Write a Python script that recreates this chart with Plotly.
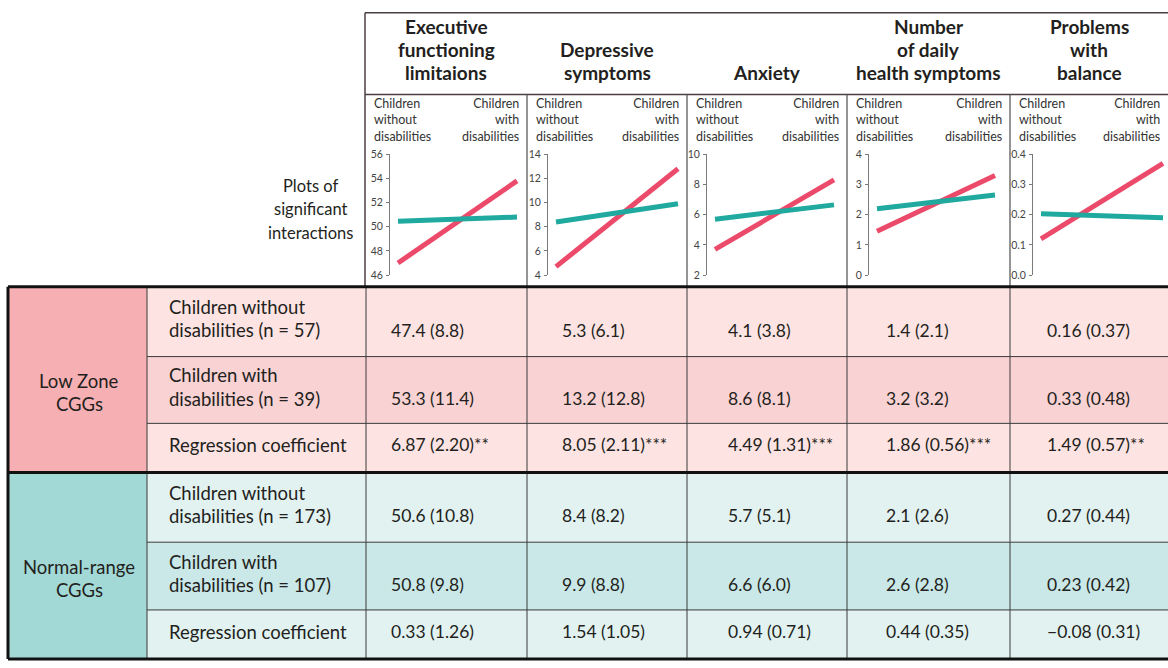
import plotly.graph_objects as go

W, H = 1168, 668

# ---- data -------------------------------------------------------------
outcomes = [
    "Executive\nfunctioning\nlimitaions",
    "Depressive\nsymptoms",
    "Anxiety",
    "Number\nof daily\nhealth symptoms",
    "Problems\nwith\nbalance",
]
y_ranges = [(46, 56), (4, 14), (2, 10), (0, 4), (0, 0.4)]
y_dticks = [2, 2, 2, 1, 0.1]
y_tickformats = ["d", "d", "d", "d", ".1f"]

x_groups = ["Children\nwithout\ndisabilities", "Children\nwith\ndisabilities"]
low_zone_means = [[47.0, 53.8], [4.7, 12.8], [3.7, 8.3], [1.45, 3.3], [0.12, 0.37]]
normal_range_means = [[50.45, 50.8], [8.4, 9.9], [5.7, 6.65], [2.2, 2.65], [0.203, 0.19]]

plots_label = "Plots of\nsignificant\ninteractions"
zone_labels = ["Low Zone\nCGGs", "Normal-range\nCGGs"]
row_labels = [
    "Children without\ndisabilities (n = 57)",
    "Children with\ndisabilities (n = 39)",
    "Regression coefficient",
    "Children without\ndisabilities (n = 173)",
    "Children with\ndisabilities (n = 107)",
    "Regression coefficient",
]
cell_values = [
    ["47.4 (8.8)", "5.3 (6.1)", "4.1 (3.8)", "1.4 (2.1)", "0.16 (0.37)"],
    ["53.3 (11.4)", "13.2 (12.8)", "8.6 (8.1)", "3.2 (3.2)", "0.33 (0.48)"],
    ["6.87 (2.20)**", "8.05 (2.11)***", "4.49 (1.31)***", "1.86 (0.56)***", "1.49 (0.57)**"],
    ["50.6 (10.8)", "8.4 (8.2)", "5.7 (5.1)", "2.1 (2.6)", "0.27 (0.44)"],
    ["50.8 (9.8)", "9.9 (8.8)", "6.6 (6.0)", "2.6 (2.8)", "0.23 (0.42)"],
    ["0.33 (1.26)", "1.54 (1.05)", "0.94 (0.71)", "0.44 (0.35)", "\u22120.08 (0.31)"],
]

# ---- styling ----------------------------------------------------------
FONT = "Lato"
TXT = "#231f20"
RED = "#ec4a6a"
TEAL = "#1fa99f"
GRID = "#3a3a3a"
ZONE_FILL = ["#f6afb3", "#a2d8d5"]
ROW_FILL = ["#fde4e2", "#f9d2d3", "#fde4e2", "#e2f2f1", "#c9e8e7", "#e2f2f1"]

col_edges = [365, 527, 687, 847, 1010, 1168]
axis_x = [390, 548, 707, 869, 1033]
line_end = [517, 678, 834, 995, 1163]
plot_top, plot_bot = 151, 274
row_edges = [286, 357, 425, 475, 546, 615, 665]
table_left, group_right, label_right = 8, 147, 366
value_x = [389, 560, 726, 884, 1045]


def px(x):
    return x / W


def py(y):
    return 1 - y / H


fig = go.Figure()


def text_lines(x, y_first, text, size, spacing, bold=False, anchor="center", color=TXT):
    for i, line in enumerate(text.split("\n")):
        t = f"<b>{line}</b>" if bold else line
        fig.add_annotation(
            x=px(x), y=py(y_first + i * spacing), xref="paper", yref="paper",
            text=t, showarrow=False, xanchor=anchor, yanchor="middle",
            font=dict(family=FONT, size=size, color=color),
        )


def text_block(x, y_top, text, size, anchor, color=TXT):
    fig.add_annotation(
        x=px(x), y=py(y_top), xref="paper", yref="paper",
        text=text.replace("\n", "<br>"), showarrow=False,
        xanchor=anchor, yanchor="top", align=anchor, borderpad=0,
        font=dict(family=FONT, size=size, color=color),
    )


def hline(x0, x1, y, width=1, color=GRID):
    fig.add_shape(type="line", xref="paper", yref="paper",
                  x0=px(x0), x1=px(x1), y0=py(y), y1=py(y),
                  line=dict(color=color, width=width), layer="above")


def vline(x, y0, y1, width=1, color=GRID):
    fig.add_shape(type="line", xref="paper", yref="paper",
                  x0=px(x), x1=px(x), y0=py(y0), y1=py(y1),
                  line=dict(color=color, width=width), layer="above")


def rect(x0, x1, y0, y1, fill):
    fig.add_shape(type="rect", xref="paper", yref="paper",
                  x0=px(x0), x1=px(x1), y0=py(y0), y1=py(y1),
                  line=dict(width=0), fillcolor=fill, layer="below")


# ---- interaction mini-plots -------------------------------------------
layout_axes = {}
for k in range(5):
    sfx = "" if k == 0 else str(k + 1)
    x0 = axis_x[k] + 8
    scale = (line_end[k] - x0)
    lo = -8 / scale
    hi = 1 + 4 / scale
    layout_axes[f"xaxis{sfx}"] = dict(
        domain=[px(axis_x[k]), px(line_end[k] + 4)], range=[lo, hi],
        visible=False, fixedrange=True, anchor=f"y{sfx}",
    )
    ylo, yhi = y_ranges[k]
    layout_axes[f"yaxis{sfx}"] = dict(
        domain=[py(plot_bot), py(plot_top)], range=[ylo, yhi],
        dtick=y_dticks[k], tick0=ylo, tickformat=y_tickformats[k],
        showline=True, linecolor="#7a7a7a", linewidth=1,
        ticks="outside", ticklen=3, tickcolor="#7a7a7a",
        tickfont=dict(family=FONT, size=10.5, color="#444444"),
        showgrid=False, zeroline=False, fixedrange=True,
        anchor=f"x{sfx}", ticklabelstandoff=1,
    )
    fig.add_trace(go.Scatter(
        x=[0, 1], y=low_zone_means[k], mode="lines",
        line=dict(color=RED, width=5), xaxis=f"x{sfx}", yaxis=f"y{sfx}",
        showlegend=False, hoverinfo="skip",
    ))
    fig.add_trace(go.Scatter(
        x=[0, 1], y=normal_range_means[k], mode="lines",
        line=dict(color=TEAL, width=5), xaxis=f"x{sfx}", yaxis=f"y{sfx}",
        showlegend=False, hoverinfo="skip",
    ))
    # group labels above each mini-plot
    text_block(col_edges[k] + 8, 91, x_groups[0], 12.5, "left", color="#333333")
    text_block(col_edges[k + 1] - 7, 91, x_groups[1], 12.5, "right", color="#333333")

# ---- header -------------------------------------------------------------
hline(365, 1168, 7, width=1.5, color="#4d3f40")
vline(365, 7, 286, width=1.5, color="#4d3f40")
hline(365, 1168, 90, width=1.5, color="#4d3f40")
for x in col_edges[1:-1]:
    vline(x, 90, 286, width=1.2, color="#4d4d4d")

for k, title in enumerate(outcomes):
    n = len(title.split("\n"))
    cx = (col_edges[k] + col_edges[k + 1]) / 2
    text_lines(cx, 68 - (n - 1) * 23.5, title, 19, 23.5, bold=True)

text_lines(310, 183, plots_label, 16.5, 24)

# ---- table ----------------------------------------------------------------
for z in range(2):
    rect(table_left, group_right, row_edges[3 * z], row_edges[3 * z + 3], ZONE_FILL[z])
for r in range(6):
    rect(group_right, 1168, row_edges[r], row_edges[r + 1], ROW_FILL[r])

for x in [group_right, label_right] + col_edges[1:-1]:
    vline(x, 286, 665, width=1)
for r in [1, 2, 4, 5]:
    hline(group_right, 1168, row_edges[r], width=1)
for y in [286, 475, 665]:
    hline(table_left, 1168, y, width=3, color="#111111")
vline(table_left, 286, 665, width=3, color="#111111")

for z, label in enumerate(zone_labels):
    mid = (row_edges[3 * z] + row_edges[3 * z + 3]) / 2
    text_lines(79, mid + 1, label, 18.5, 23.5)

for r, label in enumerate(row_labels):
    lines = label.split("\n")
    mid = (row_edges[r] + row_edges[r + 1]) / 2
    first = mid - (len(lines) - 1) * 23.5 / 2 - 3
    text_lines(167, first, label, 18.5, 23.5, anchor="left")
    last = first + (len(lines) - 1) * 23.5
    for k in range(5):
        text_lines(value_x[k], last, cell_values[r][k], 17.5, 23, anchor="left")

fig.update_layout(
    width=W, height=H, margin=dict(l=0, r=0, t=0, b=0),
    paper_bgcolor="white", plot_bgcolor="rgba(0,0,0,0)",
    showlegend=False, **layout_axes,
)

fig.write_html("out.html")
